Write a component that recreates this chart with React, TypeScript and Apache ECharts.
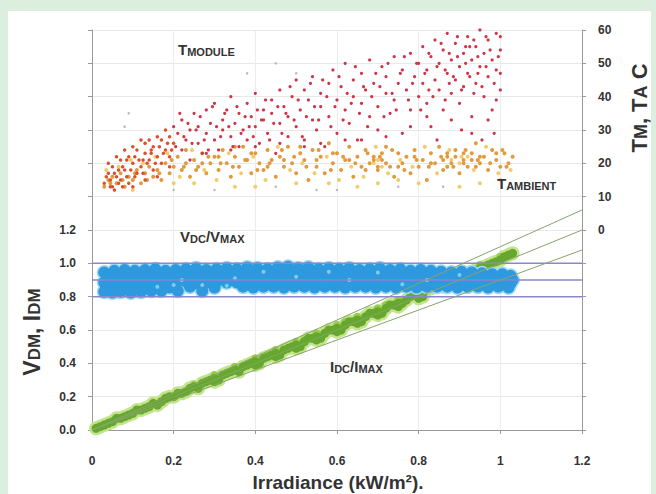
import React, { useEffect, useRef } from "react";
import * as echarts from "echarts";

// ---- axis ranges ----
const xRange = [0, 1.2];
const leftRange = [0, 2.4];
const rightRange = [-60, 60];

// ---- reference lines ----
const hLevels = [1.0, 0.9, 0.8];
const refLineEnds = [1.32, 1.2, 1.08]; // y at x = 1.2 for the lines through the origin

// ---- Idc/Imax (green) ----
const idcPoints = [
  [0.01, 0.01], [0.03, 0.03], [0.05, 0.05], [0.06, 0.07], [0.08, 0.08], [0.1, 0.1], [0.11, 0.12],
  [0.13, 0.13], [0.15, 0.16], [0.16, 0.15], [0.18, 0.19], [0.2, 0.2], [0.21, 0.22], [0.23, 0.23],
  [0.25, 0.26], [0.26, 0.25], [0.28, 0.29], [0.3, 0.31], [0.31, 0.3], [0.33, 0.34], [0.35, 0.36],
  [0.36, 0.35], [0.38, 0.39], [0.4, 0.41], [0.41, 0.4], [0.43, 0.44], [0.45, 0.46], [0.46, 0.45],
  [0.48, 0.49], [0.5, 0.51], [0.51, 0.5], [0.53, 0.55], [0.55, 0.56], [0.56, 0.55], [0.58, 0.6],
  [0.6, 0.61], [0.61, 0.6], [0.63, 0.65], [0.65, 0.66], [0.66, 0.65], [0.68, 0.7], [0.7, 0.71],
  [0.71, 0.7], [0.73, 0.75], [0.75, 0.76], [0.76, 0.76], [0.78, 0.8], [0.8, 0.82], [0.81, 0.8],
  [0.83, 0.85], [0.85, 0.87], [0.86, 0.86], [0.88, 0.9], [0.9, 0.92], [0.91, 0.92], [0.93, 0.95],
  [0.95, 0.97], [0.96, 0.98], [0.98, 1.0], [1.0, 1.02], [1.01, 1.04], [1.03, 1.06]
];
const idcFill = [
  [0.02, 0.02], [0.04, 0.04], [0.07, 0.07], [0.09, 0.09], [0.12, 0.12], [0.14, 0.14], [0.17, 0.17],
  [0.19, 0.2], [0.22, 0.22], [0.24, 0.25], [0.27, 0.28], [0.29, 0.3], [0.32, 0.33], [0.34, 0.35],
  [0.37, 0.38], [0.39, 0.4], [0.42, 0.43], [0.44, 0.45], [0.47, 0.48], [0.49, 0.5], [0.52, 0.53],
  [0.54, 0.55], [0.57, 0.58], [0.59, 0.6], [0.62, 0.63], [0.64, 0.65], [0.67, 0.68], [0.69, 0.7],
  [0.72, 0.73], [0.74, 0.75], [0.77, 0.78], [0.79, 0.81], [0.82, 0.84], [0.84, 0.86], [0.87, 0.89],
  [0.89, 0.91], [0.92, 0.94], [0.94, 0.96], [0.97, 0.99], [0.99, 1.01], [1.02, 1.05],
  [0.3, 0.29], [0.4, 0.39], [0.5, 0.49], [0.6, 0.59], [0.7, 0.69], [0.8, 0.79], [0.45, 0.44],
  [0.55, 0.54], [0.65, 0.64], [0.75, 0.74]
];
const idcUpper = [
  [0.25, 0.27], [0.3, 0.33], [0.35, 0.38], [0.4, 0.43], [0.45, 0.48], [0.5, 0.53], [0.55, 0.58],
  [0.6, 0.63], [0.65, 0.68], [0.7, 0.73], [0.75, 0.78], [0.8, 0.83], [0.85, 0.88], [0.9, 0.93],
  [0.95, 0.99], [1.0, 1.04], [0.52, 0.54], [0.62, 0.65], [0.72, 0.75], [0.82, 0.86], [0.92, 0.96]
];

// ---- Vdc/Vmax (blue) ----
const vdcRow1 = [
  [0.03, 0.945], [0.055, 0.955], [0.08, 0.96], [0.105, 0.955], [0.13, 0.96], [0.155, 0.965], [0.18, 0.955],
  [0.205, 0.96], [0.23, 0.965], [0.255, 0.97], [0.28, 0.96], [0.305, 0.965], [0.33, 0.97], [0.355, 0.965],
  [0.38, 0.975], [0.405, 0.97], [0.43, 0.965], [0.455, 0.975], [0.48, 0.98], [0.505, 0.97], [0.53, 0.975],
  [0.555, 0.965], [0.58, 0.97], [0.605, 0.965], [0.63, 0.97], [0.655, 0.96], [0.68, 0.965], [0.705, 0.97],
  [0.73, 0.96], [0.755, 0.965], [0.78, 0.955], [0.805, 0.96], [0.83, 0.955], [0.855, 0.95], [0.88, 0.945],
  [0.905, 0.95], [0.93, 0.945], [0.955, 0.94], [0.98, 0.935], [1.005, 0.935], [1.025, 0.925]
];
const vdcRow2 = [
  [0.042, 0.92], [0.068, 0.925], [0.093, 0.93], [0.118, 0.92], [0.143, 0.925], [0.168, 0.93], [0.193, 0.92],
  [0.218, 0.925], [0.243, 0.93], [0.268, 0.925], [0.293, 0.92], [0.318, 0.93], [0.343, 0.935], [0.368, 0.925],
  [0.393, 0.93], [0.418, 0.935], [0.443, 0.925], [0.468, 0.935], [0.493, 0.94], [0.518, 0.93], [0.543, 0.935],
  [0.568, 0.925], [0.593, 0.93], [0.618, 0.925], [0.643, 0.935], [0.668, 0.925], [0.693, 0.93], [0.718, 0.925],
  [0.743, 0.92], [0.768, 0.93], [0.793, 0.925], [0.818, 0.92], [0.843, 0.925], [0.868, 0.915], [0.893, 0.92],
  [0.918, 0.915], [0.943, 0.91], [0.968, 0.915], [0.993, 0.905], [1.015, 0.91], [1.03, 0.9]
];
const vdcRow3 = [
  [0.03, 0.885], [0.055, 0.89], [0.08, 0.885], [0.105, 0.88], [0.13, 0.89], [0.155, 0.885], [0.18, 0.875],
  [0.205, 0.885], [0.23, 0.89], [0.255, 0.88], [0.28, 0.885], [0.305, 0.89], [0.33, 0.885], [0.355, 0.885],
  [0.38, 0.895], [0.405, 0.885], [0.43, 0.89], [0.455, 0.895], [0.48, 0.885], [0.505, 0.89], [0.53, 0.895],
  [0.555, 0.885], [0.58, 0.89], [0.605, 0.885], [0.63, 0.895], [0.655, 0.885], [0.68, 0.89], [0.705, 0.88],
  [0.73, 0.885], [0.755, 0.89], [0.78, 0.88], [0.805, 0.885], [0.83, 0.88], [0.855, 0.885], [0.88, 0.88],
  [0.905, 0.875], [0.93, 0.88], [0.955, 0.875], [0.98, 0.875], [1.005, 0.875], [1.025, 0.88]
];
const vdcRow4 = [
  [0.035, 0.85], [0.06, 0.855], [0.085, 0.845], [0.11, 0.855], [0.135, 0.85], [0.19, 0.855], [0.24, 0.86],
  [0.3, 0.855], [0.37, 0.86], [0.395, 0.855], [0.42, 0.86], [0.445, 0.86], [0.47, 0.855], [0.495, 0.86],
  [0.52, 0.86], [0.545, 0.855], [0.57, 0.86], [0.595, 0.86], [0.62, 0.855], [0.645, 0.86], [0.67, 0.86],
  [0.695, 0.855], [0.72, 0.86], [0.745, 0.855], [0.77, 0.86], [0.795, 0.855], [0.82, 0.86], [0.845, 0.86],
  [0.87, 0.86], [0.895, 0.855], [0.92, 0.86], [0.945, 0.86], [0.97, 0.855], [0.995, 0.86], [1.02, 0.855]
];
const vdcLow = [
  [0.03, 0.83], [0.05, 0.825], [0.07, 0.83], [0.095, 0.825], [0.12, 0.83], [0.145, 0.835], [0.17, 0.835],
  [0.21, 0.835], [0.27, 0.835]
];
const vdcSpecks = [
  [0.16, 0.86], [0.2, 0.87], [0.27, 0.87], [0.33, 0.865], [0.22, 0.9], [0.35, 0.91], [0.5, 0.92],
  [0.63, 0.9], [0.7, 0.945], [0.82, 0.9], [0.9, 0.93], [0.42, 0.95], [0.58, 0.95], [0.76, 0.875]
];

// ---- Temperatures (right axis, deg C) ----
const tModuleLow = [
  [0.03, 14], [0.04, 17], [0.05, 13], [0.05, 19], [0.06, 16], [0.07, 21], [0.07, 15], [0.08, 18],
  [0.09, 22], [0.09, 14], [0.1, 20], [0.11, 24], [0.11, 17], [0.12, 19], [0.13, 23], [0.13, 26],
  [0.14, 21], [0.15, 18], [0.15, 25], [0.16, 22], [0.17, 27], [0.17, 20], [0.18, 24], [0.19, 28],
  [0.19, 22], [0.2, 26], [0.045, 15], [0.065, 18], [0.085, 16], [0.105, 22], [0.125, 21], [0.145, 24],
  [0.035, 16], [0.045, 13], [0.055, 17], [0.065, 14], [0.075, 19], [0.085, 21], [0.095, 18], [0.105, 16],
  [0.115, 21], [0.125, 17], [0.135, 20], [0.145, 23], [0.155, 20], [0.165, 25], [0.175, 23], [0.185, 26],
  [0.195, 24], [0.04, 20], [0.06, 22], [0.08, 24], [0.1, 25], [0.12, 27], [0.14, 27], [0.16, 28],
  [0.18, 30], [0.055, 12], [0.075, 13], [0.1, 13], [0.13, 15], [0.16, 16], [0.19, 19]
];
const tModule = [
  [0.2, 31], [0.21, 29], [0.22, 24], [0.22, 33], [0.23, 27], [0.24, 21], [0.24, 30], [0.25, 35],
  [0.26, 26], [0.26, 31], [0.27, 23], [0.28, 29], [0.28, 36], [0.29, 32], [0.3, 27], [0.3, 38],
  [0.31, 24], [0.32, 33], [0.32, 30], [0.33, 36], [0.34, 28], [0.34, 40], [0.35, 32], [0.36, 25],
  [0.36, 35], [0.37, 30], [0.38, 38], [0.38, 27], [0.39, 34], [0.4, 31], [0.4, 41], [0.41, 26],
  [0.42, 36], [0.42, 33], [0.43, 29], [0.44, 39], [0.44, 35], [0.45, 23], [0.46, 32], [0.46, 42],
  [0.47, 37], [0.48, 28], [0.48, 34], [0.49, 40], [0.5, 31], [0.5, 45],
  [0.51, 36], [0.52, 42], [0.52, 27], [0.53, 39], [0.54, 33], [0.54, 46], [0.55, 30], [0.56, 41],
  [0.56, 37], [0.57, 25], [0.58, 44], [0.58, 34], [0.59, 48], [0.6, 39], [0.6, 29], [0.61, 43],
  [0.62, 36], [0.62, 50], [0.63, 32], [0.64, 45], [0.64, 40], [0.65, 27], [0.66, 38], [0.66, 47],
  [0.67, 42], [0.68, 34], [0.68, 51], [0.69, 44], [0.7, 37], [0.7, 30], [0.71, 49], [0.72, 41],
  [0.72, 46], [0.73, 35], [0.74, 52], [0.74, 39], [0.75, 44], [0.76, 29], [0.76, 48], [0.77, 42],
  [0.78, 36], [0.78, 53], [0.79, 46], [0.8, 40],
  [0.8, 50], [0.81, 44], [0.81, 55], [0.82, 38], [0.82, 48], [0.83, 52], [0.83, 31], [0.84, 45],
  [0.84, 57], [0.85, 42], [0.85, 50], [0.86, 36], [0.86, 54], [0.87, 47], [0.87, 59], [0.88, 41],
  [0.88, 51], [0.89, 45], [0.89, 56], [0.9, 38], [0.9, 49], [0.91, 53], [0.91, 43], [0.92, 58],
  [0.92, 47], [0.93, 34], [0.93, 51], [0.94, 55], [0.94, 44], [0.95, 60], [0.95, 49], [0.96, 40],
  [0.96, 53], [0.97, 57], [0.97, 46], [0.98, 51], [0.98, 36], [0.99, 59], [0.99, 48], [1.0, 54],
  [1.0, 42], [0.985, 29], [0.955, 27], [0.905, 30], [0.845, 27], [0.875, 44], [0.915, 50],
  [0.935, 41], [0.965, 58], [0.925, 55], [0.895, 52], [0.865, 48], [0.825, 42], [0.945, 47]
];
const tModule2 = [
  [0.205, 25], [0.215, 35], [0.225, 28], [0.235, 32], [0.245, 26], [0.255, 30], [0.265, 34], [0.275, 27],
  [0.285, 24], [0.295, 37], [0.305, 31], [0.315, 28], [0.325, 35], [0.335, 31], [0.345, 25], [0.355, 37],
  [0.365, 29], [0.375, 34], [0.385, 31], [0.395, 28], [0.405, 36], [0.415, 33], [0.425, 39], [0.435, 27],
  [0.445, 32], [0.455, 37], [0.465, 29], [0.475, 35], [0.485, 43], [0.495, 33], [0.505, 39], [0.515, 28],
  [0.525, 34], [0.535, 44], [0.545, 37], [0.555, 33], [0.565, 45], [0.575, 40], [0.585, 31], [0.595, 37],
  [0.605, 46], [0.615, 33], [0.625, 41], [0.635, 38], [0.645, 49], [0.655, 35], [0.665, 43], [0.675, 31],
  [0.685, 40], [0.695, 47], [0.705, 43], [0.715, 34], [0.725, 50], [0.735, 41], [0.745, 36], [0.755, 47],
  [0.765, 52], [0.775, 39], [0.785, 44], [0.795, 50], [0.805, 36], [0.815, 47], [0.825, 53], [0.835, 40],
  [0.845, 49], [0.855, 56], [0.865, 39], [0.875, 53], [0.885, 46], [0.895, 58], [0.905, 42], [0.915, 55],
  [0.925, 46], [0.935, 57], [0.945, 52], [0.955, 43], [0.965, 49], [0.975, 54], [0.985, 44], [0.995, 52],
  [1.0, 58], [1.0, 47], [0.99, 39], [0.97, 33], [0.93, 29], [0.88, 33], [0.82, 34], [0.78, 31],
  [0.72, 28], [0.66, 27], [0.62, 27], [0.56, 26], [0.52, 25], [0.46, 26], [0.4, 25], [0.34, 24], [0.28, 23]
];
const tAmbient = [
  [0.03, 13], [0.04, 15], [0.05, 16], [0.06, 14], [0.07, 17], [0.08, 13], [0.09, 16], [0.1, 15],
  [0.11, 18], [0.12, 14], [0.13, 17], [0.14, 19], [0.15, 16], [0.16, 18], [0.17, 15], [0.18, 20],
  [0.19, 17], [0.2, 19], [0.21, 22], [0.22, 18], [0.23, 20], [0.24, 16], [0.25, 21], [0.26, 19],
  [0.27, 23], [0.28, 17], [0.29, 20], [0.3, 22], [0.31, 18], [0.32, 24], [0.33, 20], [0.34, 16],
  [0.35, 22], [0.36, 19], [0.37, 25], [0.38, 21], [0.39, 17], [0.4, 23], [0.41, 20], [0.42, 18],
  [0.43, 24], [0.44, 21], [0.45, 16], [0.46, 22], [0.47, 19], [0.48, 25], [0.49, 20], [0.5, 17],
  [0.51, 23], [0.52, 21], [0.53, 15], [0.54, 24], [0.55, 19], [0.56, 22], [0.57, 17], [0.58, 26],
  [0.59, 20], [0.6, 23], [0.61, 18], [0.62, 21], [0.63, 25], [0.64, 16], [0.65, 22], [0.66, 19],
  [0.67, 24], [0.68, 20], [0.69, 22], [0.7, 18], [0.71, 21], [0.72, 25], [0.73, 19], [0.74, 16],
  [0.75, 23], [0.76, 20], [0.77, 22], [0.78, 17], [0.79, 24], [0.8, 19], [0.81, 21], [0.82, 15],
  [0.83, 23], [0.84, 20], [0.85, 25], [0.86, 18], [0.87, 22], [0.88, 20], [0.89, 24], [0.9, 17],
  [0.91, 21], [0.92, 19], [0.93, 23], [0.94, 26], [0.95, 20], [0.96, 22], [0.97, 18], [0.98, 24],
  [0.99, 21], [1.0, 19], [1.01, 23], [1.02, 20], [1.03, 22],
  [0.045, 14], [0.075, 15], [0.105, 17], [0.135, 15], [0.165, 17], [0.195, 21], [0.225, 19], [0.255, 18],
  [0.285, 22], [0.315, 20], [0.345, 19], [0.375, 21], [0.405, 18], [0.435, 20], [0.465, 24], [0.495, 22],
  [0.525, 19], [0.555, 24], [0.585, 18], [0.615, 22], [0.645, 20], [0.675, 23], [0.705, 22], [0.735, 24],
  [0.765, 18], [0.795, 21], [0.825, 19], [0.855, 22], [0.885, 19], [0.915, 24], [0.945, 21], [0.975, 20],
  [1.005, 24], [1.015, 19], [0.23, 24], [0.27, 20], [0.31, 22], [0.35, 25], [0.39, 23], [0.43, 19],
  [0.47, 21], [0.51, 25], [0.55, 21], [0.59, 23], [0.63, 21], [0.67, 18], [0.71, 23], [0.75, 19],
  [0.79, 22], [0.83, 20], [0.87, 19], [0.91, 23], [0.95, 22], [0.99, 23], [0.69, 21], [0.7, 19],
  [0.72, 20], [0.86, 21], [0.89, 22], [0.91, 20], [0.93, 21], [0.87, 23], [0.94, 19]
];
const tAmbientLight = [
  [0.035, 18], [0.065, 19], [0.095, 21], [0.125, 20], [0.155, 22], [0.185, 23], [0.215, 16], [0.245, 24],
  [0.275, 18], [0.305, 15], [0.335, 23], [0.365, 17], [0.395, 22], [0.425, 15], [0.455, 25], [0.485, 18],
  [0.515, 20], [0.545, 17], [0.575, 22], [0.605, 15], [0.635, 19], [0.665, 16], [0.695, 25], [0.725, 17],
  [0.755, 21], [0.785, 19], [0.815, 25], [0.845, 17], [0.875, 24], [0.905, 22], [0.935, 18], [0.965, 25],
  [0.995, 17], [1.025, 18], [0.69, 20], [0.7, 21], [0.71, 19], [0.88, 21], [0.9, 20], [0.92, 22],
  [0.1, 12], [0.25, 14], [0.35, 13], [0.5, 14], [0.65, 13], [0.8, 14], [0.95, 14], [0.4, 13],
  [0.7, 14], [0.9, 13], [0.2, 14], [0.58, 14], [0.75, 15], [1.0, 15]
];
const tFaint = [
  [0.08, 31], [0.09, 35], [0.2, 12], [0.3, 12], [0.45, 13], [0.6, 12], [0.75, 13], [0.38, 47],
  [0.45, 50], [0.5, 47], [0.55, 12], [0.86, 13]
];

const FONT = "'Liberation Sans', Arial, sans-serif";

function scatter(name: string, data: number[][], color: string, size: number, yAxisIndex = 0, opacity = 1) {
  return {
    name,
    type: "scatter",
    data,
    yAxisIndex,
    symbol: "circle",
    symbolSize: size,
    itemStyle: { color, opacity },
    silent: true,
  };
}

export default function App() {
  const ref = useRef<HTMLDivElement>(null);
  useEffect(() => {
    if (!ref.current) return;
    const chart = echarts.init(ref.current, undefined, { renderer: "svg" });
    const labelStyle = { color: "#333", fontWeight: "bold", fontSize: 12, fontFamily: FONT };
    const hLineSeries = hLevels.map((lv) => ({
      type: "line",
      data: [[xRange[0], lv], [xRange[1], lv]],
      showSymbol: false,
      silent: true,
      lineStyle: { color: "#8a86cc", width: 1.5 },
    }));
    const refSeries = refLineEnds.map((e) => ({
      type: "line",
      data: [[0, 0], [xRange[1], e]],
      showSymbol: false,
      silent: true,
      lineStyle: { color: "#87a36a", width: 1 },
    }));
    const vdcAll = [...vdcRow1, ...vdcRow2, ...vdcRow3, ...vdcRow4, ...vdcLow];
    const idcAll = [...idcPoints, ...idcFill];
    chart.setOption({
      animation: false,
      backgroundColor: "#dcefdf",
      grid: { left: 92, right: 74, top: 30, bottom: 64, containLabel: false },
      xAxis: {
        type: "value",
        min: xRange[0],
        max: xRange[1],
        interval: 0.2,
        axisLine: { lineStyle: { color: "#999" } },
        axisTick: { show: true, length: 4, lineStyle: { color: "#999" } },
        splitLine: { show: true, lineStyle: { color: "#ececec" } },
        axisLabel: { ...labelStyle, margin: 25, formatter: (v: number) => String(Math.round(v * 10) / 10) },
      },
      yAxis: [
        {
          type: "value",
          min: leftRange[0],
          max: leftRange[1],
          interval: 0.2,
          axisLine: { show: true, lineStyle: { color: "#999" } },
          axisTick: { show: true, length: 4, lineStyle: { color: "#999" } },
          splitLine: { show: true, lineStyle: { color: "#e8e8e8" } },
          axisLabel: {
            ...labelStyle,
            margin: 16,
            formatter: (v: number) => (v <= 1.2001 ? v.toFixed(1) : ""),
          },
        },
        {
          type: "value",
          position: "right",
          min: rightRange[0],
          max: rightRange[1],
          interval: 10,
          axisLine: { show: true, lineStyle: { color: "#999" } },
          axisTick: { show: true, length: 4, lineStyle: { color: "#999" } },
          splitLine: { show: false },
          axisLabel: {
            ...labelStyle,
            margin: 16,
            formatter: (v: number) => (v >= 0 ? String(v) : ""),
          },
        },
      ],
      graphic: [
        {
          type: "rect",
          z: -10,
          silent: true,
          shape: { x: 8, y: 11, width: 643, height: 483 },
          style: { fill: "#ffffff" },
        },
        {
          type: "text",
          x: 31,
          y: 332,
          rotation: Math.PI / 2,
          silent: true,
          style: {
            text: "{b|V}{s|DM}{b|, I}{s|DM}",
            align: "center",
            verticalAlign: "middle",
            fill: "#333",
            rich: {
              b: { fontSize: 23, fontWeight: "bold", fontFamily: FONT, fill: "#333", verticalAlign: "bottom", lineHeight: 24 },
              s: { fontSize: 17, fontWeight: "bold", fontFamily: FONT, fill: "#333", verticalAlign: "bottom", lineHeight: 24 },
            },
          },
        },
        {
          type: "text",
          x: 638,
          y: 108,
          rotation: Math.PI / 2,
          silent: true,
          style: {
            text: "{b|T}{s|M}{b|, T}{s|A}{b| C}",
            align: "center",
            verticalAlign: "middle",
            fill: "#333",
            rich: {
              b: { fontSize: 22, fontWeight: "bold", fontFamily: FONT, fill: "#333", verticalAlign: "bottom", lineHeight: 24 },
              s: { fontSize: 18, fontWeight: "bold", fontFamily: FONT, fill: "#333", verticalAlign: "bottom", lineHeight: 24 },
            },
          },
        },
        {
          type: "text",
          x: 338,
          y: 482,
          silent: true,
          style: {
            text: "Irradiance (kW/m²).",
            align: "center",
            verticalAlign: "middle",
            fill: "#333",
            font: `bold 19px ${FONT}`,
          },
        },
        ...[
          { x: 178, y: 49, t: "{a|T}{b|MODULE}" },
          { x: 497, y: 183, t: "{a|T}{b|AMBIENT}" },
          { x: 180, y: 236, t: "{a|V}{b|DC}{a|/V}{b|MAX}" },
          { x: 330, y: 366, t: "{a|I}{b|DC}{a|/I}{b|MAX}" },
        ].map((l) => ({
          type: "text",
          x: l.x,
          y: l.y,
          silent: true,
          z: 100,
          style: {
            text: l.t,
            align: "left",
            verticalAlign: "middle",
            fill: "#333",
            rich: {
              a: { fontSize: 15, fontWeight: "bold", fontFamily: FONT, fill: "#333", verticalAlign: "bottom", lineHeight: 16 },
              b: { fontSize: 11, fontWeight: "bold", fontFamily: FONT, fill: "#333", verticalAlign: "bottom", lineHeight: 16 },
            },
          },
        })),
      ],
      series: [
        ...hLineSeries,
        ...refSeries,
        scatter("IdcHalo", idcAll, "#c4e48c", 14),
        scatter("IdcUpper", idcUpper, "#96cc4c", 8),
        scatter("Idc", idcAll, "#66a82e", 9),
        scatter("VdcHalo", vdcAll, "#9fd8f4", 15),
        scatter("Vdc", vdcAll, "#2d99de", 12),
        scatter("VdcSpecks", vdcSpecks, "#7fcaf0", 4),
        scatter("TFaint", tFaint, "#b8b8b8", 2.5, 1),
        scatter("TAmbientLight", tAmbientLight, "#f2cc6c", 4, 1),
        scatter("TAmbient", tAmbient, "#e29a3e", 4, 1),
        scatter("TModuleLow", tModuleLow, "#dd4f2c", 3.5, 1),
        scatter("TModule", [...tModule, ...tModule2], "#cf3547", 3.2, 1),
      ],
    });
    return () => chart.dispose();
  }, []);
  return <div ref={ref} style={{ position: "fixed", left: 0, top: 0, width: 656, height: 494 }} />;
}
